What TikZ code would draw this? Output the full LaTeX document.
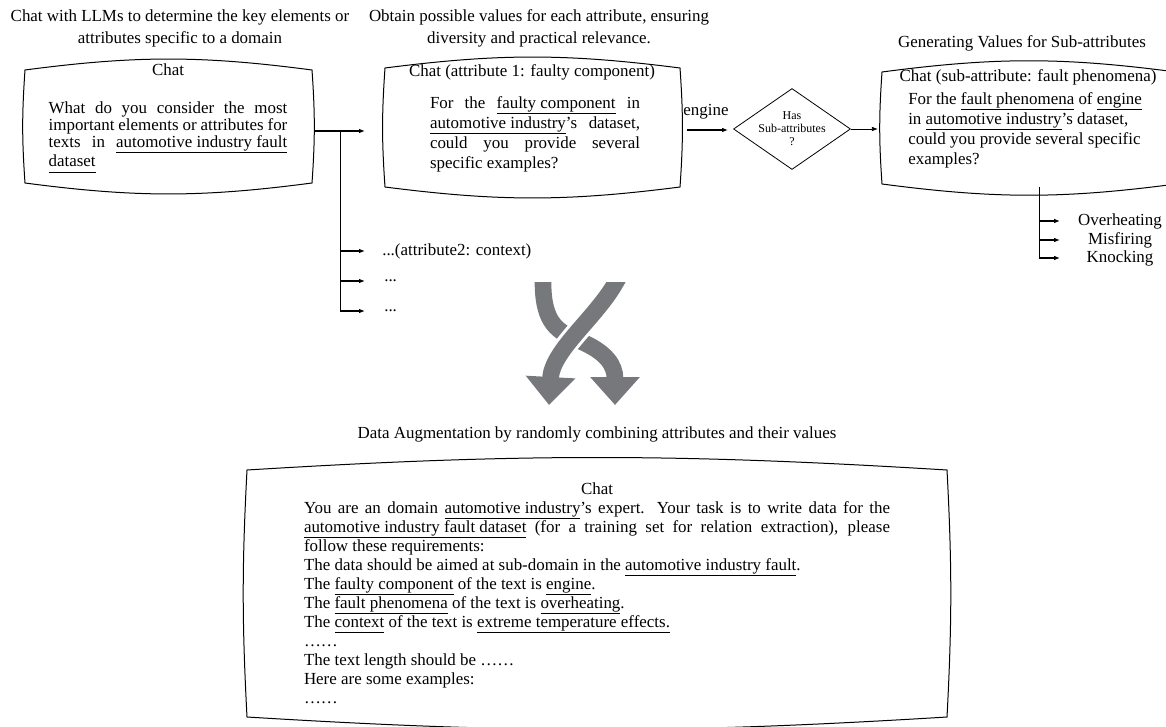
\documentclass[tikz,border=0pt]{standalone}
\usepackage{fontspec}
\setmainfont{Liberation Serif}
\usetikzlibrary{calc, arrows.meta, shapes.geometric}

\definecolor{twistgray}{HTML}{76787B}

\tikzset{
    txt/.style={inner sep=0pt, font=\fontsize{12.7}{15}\selectfont},
    head/.style={txt, align=center, font=\fontsize{12.7}{16.5}\selectfont},
    frame/.style={draw=black, line width=0.75pt},
    link/.style={line width=1.1pt, -{Latex[length=4.5pt,width=3.5pt]}},
    spine/.style={line width=0.6pt},
    twist/.style={draw=twistgray, line width=12.5pt, -{Triangle[width=36pt,length=21pt]}},
}

% underlined term, same depth for every word
\newcommand{\term}[1]{\underline{#1\vphantom{gy}}}

% pillow-shaped chat frame: nw corner, se corner, bend of top/bottom, bend of sides
\newcommand{\chatframe}[4]{%
    \draw[frame] (#1) to[bend left=#3] (#1 -| #2) to[bend left=#4] (#2)
        to[bend left=#3] (#2 -| #1) to[bend left=#4] (#1) -- cycle;}

\begin{document}
\begin{tikzpicture}[x=0.75pt, y=-0.75pt]
    \useasboundingbox (0,0) rectangle (1166,727);

    % step 1: key attributes of the domain
    \node[head] (t1) at (180,28) {Chat with LLMs to determine the key elements or\\attributes specific to a domain};
    \coordinate (q1nw) at (25,70);
    \coordinate (q1se) at (312,183);
    \chatframe{q1nw}{q1se}{7.5}{4}
    \node[txt] (c1) at (168,70) {Chat};
    \node[txt, text width=179pt, align=justify, anchor=north, font=\fontsize{12.7}{12.75}\selectfont] (b1) at (168,101)
        {What do you consider the most\linebreak important elements or attributes for\linebreak texts in \term{automotive industry fault}\linebreak \term{dataset}};

    % step 2: values of each attribute
    \node[head] (t2) at (539,28) {Obtain possible values for each attribute, ensuring\\diversity and practical relevance.};
    \coordinate (q2nw) at (385,68);
    \coordinate (q2se) at (680,187);
    \chatframe{q2nw}{q2se}{7.3}{4}
    \node[txt] (c2) at (532,72) {Chat (attribute 1: faulty component)};
    \node[txt, text width=157.5pt, align=justify, anchor=north] (b2) at (535,96)
        {For the \term{faulty component} in\linebreak \term{automotive industry}'s dataset,\linebreak could you provide several\linebreak specific examples?};

    % branches from step 1
    \coordinate (s1) at (315,131);
    \coordinate (j1) at (340,131);
    \coordinate (e1) at (365,131);
    \draw[link] (s1) -- (e1);
    \node[txt, anchor=west] (a2) at (382,251) {...(attribute2: context)};
    \node[txt, anchor=west] (a3) at (384,281) {...};
    \node[txt, anchor=west] (a4) at (384,311) {...};
    \draw[spine] (j1) -- (j1 |- a4);
    \foreach \v in {a2,a3,a4}
        \draw[link] (j1 |- \v) -- ++(25,0);

    % sub-attributes
    \node[txt] (eng) at (706,112) {engine};
    \coordinate (e2) at (687,130);
    \draw[link] (e2) -- ++(41,0);
    \node[draw, diamond, aspect=1.44, inner sep=-2pt, minimum width=87.75pt, minimum height=60.75pt,
        align=center, line width=0.6pt, font=\fontsize{9}{9.75}\selectfont] (sub) at (792,129) {Has\\Sub-attributes\\?};
    \draw[link, line width=0.6pt] (sub.east) -- ++(27,0);

    \node[head] (t3) at (1022,43) {Generating Values for Sub-attributes};
    \coordinate (q3nw) at (882,72);
    \coordinate (q3se) at (1176,184);
    \chatframe{q3nw}{q3se}{7.5}{4}
    \node[txt] (c3) at (1028,77) {Chat (sub-attribute: fault phenomena)};
    \node[txt, align=left, anchor=north west] (b3) at (908,92)
        {For the \term{fault phenomena} of \term{engine}\\ in \term{automotive industry}'s dataset,\\ could you provide several specific\\ examples?};

    \coordinate (j3) at (1039,187);
    \node[txt] (o1) at (1120,221) {Overheating};
    \node[txt] (o2) at (1120,240) {Misfiring};
    \node[txt] (o3) at (1120,258) {Knocking};
    \draw[spine] (j3) -- (j3 |- o3);
    \foreach \v in {o1,o2,o3}
        \draw[link] (j3 |- \v) -- ++(21,0);

    % crossing arrows
    \begin{scope}
        \clip (0,282) rectangle (1166,727);
        \draw[twist] (543,268) -- (543,282) .. controls (543,324) and (558,332) .. (580,341)
            .. controls (606,352) and (615,365) .. (615,405);
        \draw[white, line width=17pt] (624,268) -- (616,282) .. controls (596,318) and (552,350) .. (549,380);
        \draw[twist] (624,268) -- (616,282) .. controls (596,318) and (552,350) .. (549,405);
    \end{scope}

    % step 3: augmentation
    \node[head] (t4) at (597,434) {Data Augmentation by randomly combining attributes and their values};
    \coordinate (q4nw) at (247,470);
    \coordinate (q4se) at (947,717);
    \chatframe{q4nw}{q4se}{3.5}{3}
    \node[txt] (c4) at (597,489) {Chat};
    \node[txt, text width=439.5pt, align=justify, anchor=north, font=\fontsize{12.7}{14.25}\selectfont] (b4) at (597,501)
        {You are an domain \term{automotive industry}'s expert. Your task is to write data for the\linebreak
        \term{automotive industry fault dataset} (for a training set for relation extraction), please\linebreak
        follow these requirements:\\
        The data should be aimed at sub-domain in the \term{automotive industry fault}.\\
        The \term{faulty component} of the text is \term{engine}.\\
        The \term{fault phenomena} of the text is \term{overheating}.\\
        The \term{context} of the text is \term{extreme temperature effects.}\\
        ……\\
        The text length should be ……\\
        Here are some examples:\\
        ……};
\end{tikzpicture}
\end{document}
